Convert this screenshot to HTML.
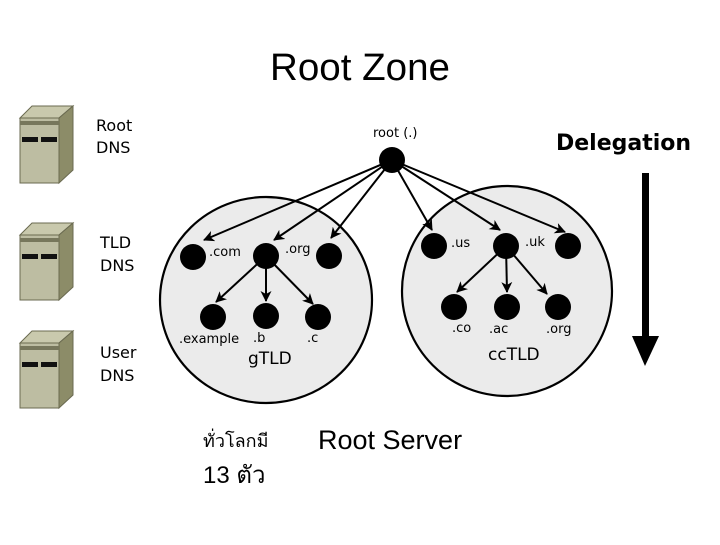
<!DOCTYPE html>
<html><head><meta charset="utf-8"><style>
body{margin:0;width:720px;height:540px;background:#fff;overflow:hidden}
</style></head><body>
<svg width="720" height="540" xmlns="http://www.w3.org/2000/svg">
<defs>
<marker id="a" markerWidth="11" markerHeight="11" refX="10" refY="5.5" orient="auto" markerUnits="userSpaceOnUse"><path d="M0,0 L11,5.5 L0,11 L3,5.5 z" fill="#000"/></marker>
<g id="srv">
<path d="M20,118 L32,106 L73,106 L59,118 z" fill="#c9c9ad" stroke="#6a6a50" stroke-width="1"/>
<path d="M59,118 L73,106 L73,170 L59,183 z" fill="#8c8c68" stroke="#6a6a50" stroke-width="1"/>
<rect x="20" y="118" width="39" height="65" fill="#bdbda2" stroke="#6a6a50" stroke-width="1"/>
<rect x="20" y="121" width="39" height="4" fill="#77775c"/>
<rect x="22" y="137" width="16" height="5" fill="#111"/>
<rect x="41" y="137" width="16" height="5" fill="#111"/>
</g>
</defs>
<text x="360" y="80" text-anchor="middle" font-family="Liberation Sans, sans-serif" font-size="38" textLength="180" lengthAdjust="spacingAndGlyphs">Root Zone</text>
<use href="#srv"/>
<use href="#srv" y="117"/>
<use href="#srv" y="225"/>
<g font-family="DejaVu Sans, sans-serif" font-size="16">
<text x="96" y="131">Root</text><text x="96" y="153">DNS</text>
<text x="100" y="248">TLD</text><text x="100" y="271">DNS</text>
<text x="100" y="358">User</text><text x="100" y="381">DNS</text>
</g>
<ellipse cx="266" cy="300" rx="106" ry="103" fill="#ebebeb" stroke="#000" stroke-width="2.2"/>
<circle cx="507" cy="291" r="105" fill="#ebebeb" stroke="#000" stroke-width="2.2"/>
<g stroke="#000" stroke-width="2" fill="none" marker-end="url(#a)">
<line x1="392" y1="160" x2="204" y2="240"/>
<line x1="392" y1="160" x2="274" y2="240"/>
<line x1="392" y1="160" x2="331" y2="238"/>
<line x1="392" y1="160" x2="432" y2="230"/>
<line x1="392" y1="160" x2="500" y2="230"/>
<line x1="392" y1="160" x2="565" y2="232"/>
<line x1="266" y1="256" x2="216" y2="302"/>
<line x1="266" y1="256" x2="266" y2="301"/>
<line x1="266" y1="256" x2="313" y2="304"/>
<line x1="506" y1="246" x2="457" y2="292"/>
<line x1="506" y1="246" x2="507" y2="292"/>
<line x1="506" y1="246" x2="547" y2="294"/>
</g>
<g fill="#000">
<circle cx="392" cy="160" r="13"/>
<circle cx="193" cy="257" r="13"/><circle cx="266" cy="256" r="13"/><circle cx="329" cy="256" r="13"/>
<circle cx="213" cy="317" r="13"/><circle cx="266" cy="316" r="13"/><circle cx="318" cy="317" r="13"/>
<circle cx="434" cy="246" r="13"/><circle cx="506" cy="246" r="13"/><circle cx="568" cy="246" r="13"/>
<circle cx="454" cy="307" r="13"/><circle cx="507" cy="307" r="13"/><circle cx="558" cy="307" r="13"/>
</g>
<g font-family="DejaVu Sans, sans-serif" font-size="13">
<text x="373" y="137">root (.)</text>
<text x="209" y="256">.com</text><text x="285" y="253">.org</text>
<text x="179" y="343">.example</text><text x="253" y="342">.b</text><text x="307" y="342">.c</text>
<text x="451" y="247">.us</text><text x="525" y="246">.uk</text>
<text x="452" y="332">.co</text><text x="489" y="333">.ac</text><text x="546" y="333">.org</text>
</g>
<g font-family="DejaVu Sans, sans-serif" font-size="17">
<text x="248" y="364">gTLD</text><text x="488" y="360">ccTLD</text>
</g>
<text x="556" y="150" font-family="DejaVu Sans, sans-serif" font-weight="bold" font-size="22">Delegation</text>
<rect x="642" y="173" width="7" height="165" fill="#000"/>
<path d="M632,336 L659,336 L645,366 z" fill="#000"/>
<text x="203" y="447" font-family="Liberation Serif, 'Noto Serif CJK SC', serif" font-size="18">ทั่วโลกมี</text>
<text x="203" y="483" font-family="Liberation Sans, sans-serif" font-size="24">13 ตัว</text>
<text x="318" y="449" font-family="Liberation Sans, sans-serif" font-size="27">Root Server</text>
</svg>
</body></html>
